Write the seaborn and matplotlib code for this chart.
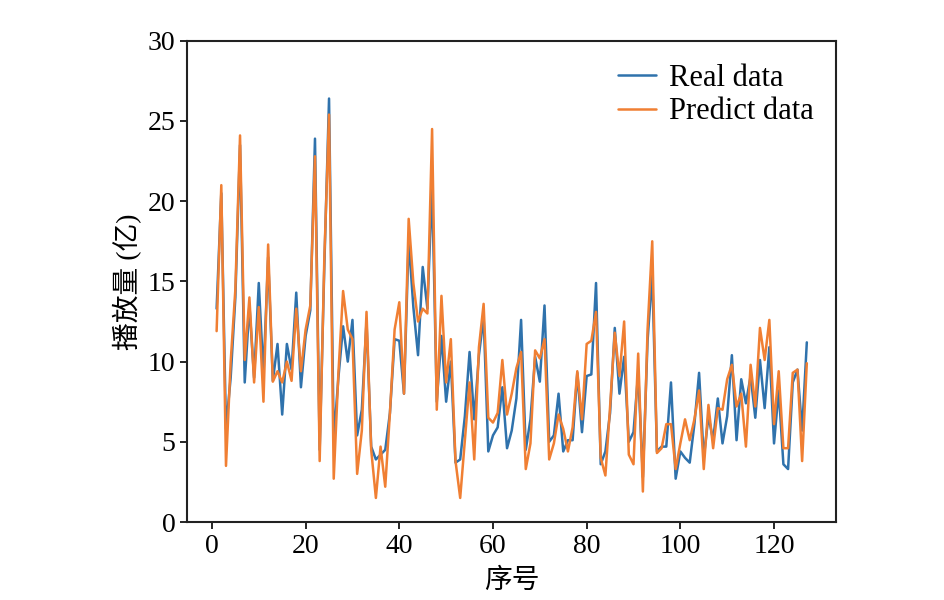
import seaborn as sns
import pandas as pd
import numpy as np
import matplotlib
matplotlib.use('Agg')
import matplotlib.pyplot as plt

# values, index 1..127
real_data = [13.3, 20.5, 5.8, 9.0, 14.0, 23.5, 8.7, 13.5, 9.0, 14.9,
             9.2, 16.5, 8.8, 11.1, 6.7, 11.1, 9.5, 14.3, 8.4, 11.6,
             13.2, 23.9, 4.5, 16.0, 26.4, 5.1, 9.0, 12.2, 10.0, 12.6,
             5.4, 7.0, 12.5, 4.7, 3.9, 4.2, 4.5, 6.8, 11.4, 11.3,
             8.0, 17.6, 13.4, 10.4, 15.9, 13.3, 21.0, 7.5, 11.6, 7.5,
             10.0, 3.7, 3.9, 6.6, 10.6, 6.4, 10.4, 12.8, 4.4, 5.4,
             5.9, 8.4, 4.6, 5.7, 7.7, 12.6, 4.5, 6.4, 10.3, 8.75,
             13.5, 5.0, 5.4, 8.0, 4.4, 5.1, 5.1, 9.3, 5.6, 9.1,
             9.2, 14.9, 3.6, 4.4, 6.8, 12.1, 8.0, 10.3, 5.0, 5.6,
             9.3, 2.8, 11.3, 15.5, 4.4, 4.7, 4.7, 8.7, 2.7, 4.4,
             4.0, 3.7, 6.1, 9.3, 4.0, 6.6, 5.1, 7.7, 4.9, 6.6,
             10.4, 5.1, 8.9, 7.4, 9.1, 6.5, 10.1, 7.1, 10.9, 4.9,
             8.2, 3.6, 3.3, 8.7, 9.5, 5.7, 11.2]
predict_data = [11.9, 21.0, 3.5, 10.0, 14.5, 24.1, 10.1, 14.0, 8.7, 13.4,
                7.5, 17.3, 8.75, 9.4, 8.7, 10.0, 8.8, 13.3, 9.4, 12.0,
                13.5, 22.8, 3.8, 16.5, 25.4, 2.7, 9.3, 14.4, 12.0, 11.4,
                3.0, 5.7, 13.1, 4.5, 1.5, 4.7, 2.2, 6.8, 12.0, 13.7,
                8.0, 18.9, 14.9, 12.5, 13.3, 13.0, 24.5, 7.0, 14.1, 8.7,
                11.4, 3.8, 1.5, 5.1, 8.7, 3.9, 10.9, 13.6, 6.5, 6.2,
                6.8, 10.1, 6.7, 8.0, 9.6, 10.6, 3.3, 4.9, 10.7, 10.2,
                11.4, 3.9, 4.9, 6.7, 5.8, 4.4, 5.9, 9.4, 6.4, 11.1,
                11.3, 13.1, 4.0, 2.9, 7.2, 11.8, 9.1, 12.5, 4.2, 3.6,
                10.5, 1.9, 12.0, 17.5, 4.3, 4.6, 6.1, 6.1, 3.3, 4.9,
                6.4, 5.1, 6.4, 8.2, 3.3, 7.3, 4.6, 7.1, 7.0, 8.9,
                9.8, 7.2, 8.0, 4.7, 9.8, 7.2, 12.1, 10.1, 12.6, 6.1,
                9.4, 4.6, 4.6, 9.3, 9.5, 3.8, 9.9]
index = np.arange(1, len(real_data) + 1)

df = pd.DataFrame({'index': index, 'real': real_data, 'predict': predict_data})

sns.set_style('ticks')
plt.rcParams['font.family'] = ['Liberation Serif', 'Noto Sans CJK SC']
plt.rcParams['axes.unicode_minus'] = False
plt.rcParams['text.color'] = 'black'
plt.rcParams['axes.labelcolor'] = 'black'
plt.rcParams['xtick.color'] = 'black'
plt.rcParams['ytick.color'] = 'black'

fig = plt.figure(figsize=(9.45, 6), dpi=100)
ax = fig.add_axes([0.198, 0.13, 0.687, 0.802])

sns.lineplot(data=df, x='index', y='real', ax=ax, color='#2f72ac', lw=1.8, label='Real data')
sns.lineplot(data=df, x='index', y='predict', ax=ax, color='#f07f33', lw=1.8, label='Predict data')

ax.set_ylim(0, 30)
ax.set_yticks([0, 5, 10, 15, 20, 25, 30])
ax.set_xticks([0, 20, 40, 60, 80, 100, 120])
ax.set_xlabel('序号', fontsize=20, labelpad=7)
ax.set_ylabel('播放量 (亿)', fontsize=20)
ax.tick_params(labelsize=20, direction='out', length=5, width=1.2, color='black')
for s in ax.spines.values():
    s.set_linewidth(1.5)
    s.set_color('#222222')

ax.legend(loc='upper right', frameon=False, fontsize=22, handlelength=1.25,
          handletextpad=0.4, borderaxespad=0.35, labelspacing=0.15)

fig.savefig('out.png', dpi=100)
